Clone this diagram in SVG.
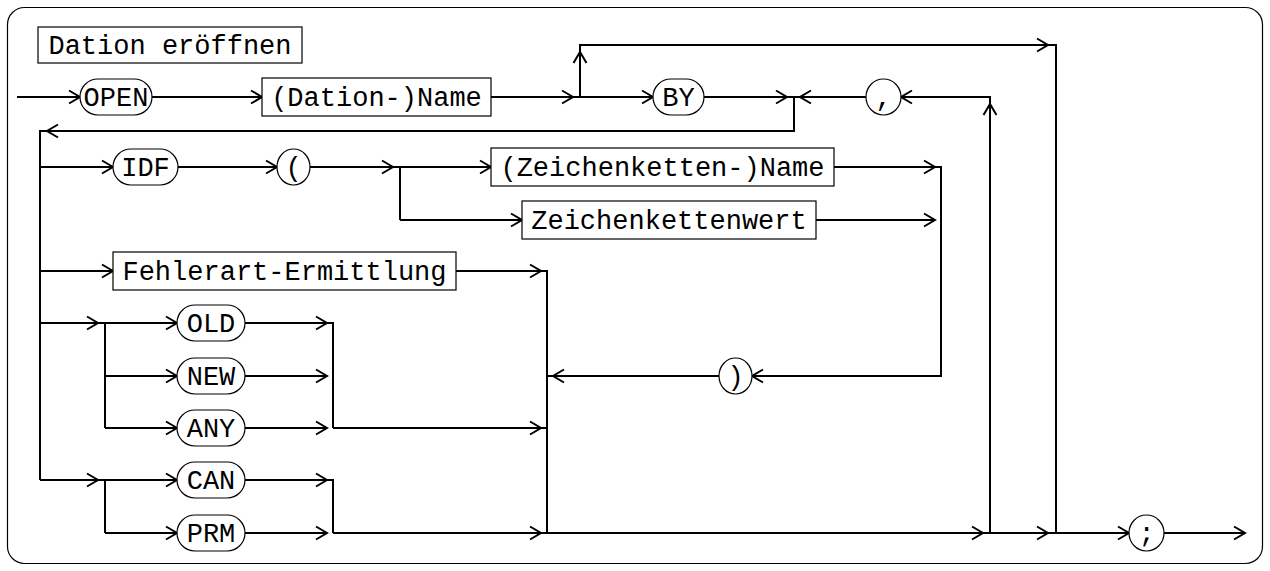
<svg xmlns="http://www.w3.org/2000/svg" width="1270" height="571" viewBox="0 0 1270 571">
<style>
.t{font-family:"Liberation Mono","DejaVu Sans Mono",monospace;font-size:27px;fill:#000;text-anchor:middle}
.box{fill:#fff;stroke:#000;stroke-width:1.2}
.c{fill:none;stroke:#000;stroke-width:2}
.a{fill:none;stroke:#000;stroke-width:2;marker-end:url(#ah)}
</style>
<defs>
<marker id="ah" markerUnits="userSpaceOnUse" markerWidth="16" markerHeight="16" viewBox="-13 -8 15 16" refX="0" refY="0" orient="auto">
<path d="M-11,-6.5 L0,0 L-11,6.5" fill="none" stroke="#000" stroke-width="2"/>
</marker>
</defs>
<rect x="7.5" y="7.5" width="1255" height="556" rx="17" fill="none" stroke="#000" stroke-width="1.2"/>
<g id="title"><rect class="box" x="38" y="27" width="264" height="36"/><text class="t" x="170" y="54">Dation eröffnen</text></g>
<g id="connectors">
<path class="a" d="M17,97 H80"/>
<path class="a" d="M152,97 H262"/>
<path class="a" d="M491,97 H573"/>
<path class="c" d="M573,97 H580"/>
<path class="a" d="M580,97 V52"/>
<path class="a" d="M580,52 V45 H1048"/>
<path class="c" d="M1048,45 H1056 V533"/>
<path class="a" d="M580,97 H653"/>
<path class="a" d="M704,97 H787"/>
<path class="a" d="M787,97 H794 V131 H47"/>
<path class="c" d="M47,131 H40 V480"/>
<path class="a" d="M990,533 V104"/>
<path class="a" d="M990,104 V97 H901"/>
<path class="a" d="M866,97 H800"/>
<path class="c" d="M800,97 H794"/>
<path class="a" d="M40,167 H113"/>
<path class="a" d="M178,167 H277"/>
<path class="a" d="M310,167 H393"/>
<path class="c" d="M393,167 H400 V220"/>
<path class="a" d="M400,167 H491"/>
<path class="a" d="M400,220 H522"/>
<path class="a" d="M834,167 H935"/>
<path class="a" d="M816,220 H935"/>
<path class="a" d="M935,167 H941 V376 H752"/>
<path class="a" d="M719,376 H553"/>
<path class="c" d="M553,376 H547"/>
<path class="a" d="M40,271 H113"/>
<path class="a" d="M456,271 H541"/>
<path class="c" d="M541,271 H547 V533"/>
<path class="a" d="M40,323 H98"/>
<path class="c" d="M98,323 H105 V428"/>
<path class="a" d="M105,323 H177"/>
<path class="a" d="M105,376 H177"/>
<path class="a" d="M105,428 H177"/>
<path class="a" d="M245,323 H327"/>
<path class="a" d="M245,376 H327"/>
<path class="a" d="M245,428 H327"/>
<path class="c" d="M327,323 H333 V428"/>
<path class="a" d="M333,428 H541"/>
<path class="c" d="M541,428 H547"/>
<path class="a" d="M40,480 H98"/>
<path class="c" d="M98,480 H105 V533"/>
<path class="a" d="M105,480 H177"/>
<path class="a" d="M105,533 H177"/>
<path class="a" d="M245,480 H327"/>
<path class="a" d="M245,533 H327"/>
<path class="c" d="M327,480 H333 V533"/>
<path class="a" d="M333,533 H541"/>
<path class="a" d="M541,533 H983"/>
<path class="a" d="M983,533 H1048"/>
<path class="a" d="M1048,533 H1129"/>
<path class="a" d="M1164,533 H1245"/>
</g>
<g id="open"><rect class="box" x="80" y="79" width="72" height="36" rx="18"/><text class="t" x="116" y="106">OPEN</text></g>
<g id="dationname"><rect class="box" x="262" y="78" width="229" height="38"/><text class="t" x="376.5" y="106">(Dation-)Name</text></g>
<g id="by"><rect class="box" x="653" y="79" width="51" height="36" rx="18"/><text class="t" x="678.5" y="106">BY</text></g>
<g id="comma"><ellipse class="box" cx="883.5" cy="97" rx="17.5" ry="18"/><text class="t" x="883.5" y="106">,</text></g>
<g id="idf"><rect class="box" x="113" y="149" width="65" height="36" rx="18"/><text class="t" x="145.5" y="176">IDF</text></g>
<g id="lparen"><ellipse class="box" cx="293.5" cy="167" rx="16.5" ry="18"/><text class="t" x="293.5" y="176">(</text></g>
<g id="zname"><rect class="box" x="491" y="148" width="343" height="38"/><text class="t" x="662.5" y="176">(Zeichenketten-)Name</text></g>
<g id="zwert"><rect class="box" x="522" y="201" width="294" height="38"/><text class="t" x="669" y="229">Zeichenkettenwert</text></g>
<g id="fehler"><rect class="box" x="113" y="252" width="343" height="38"/><text class="t" x="284.5" y="280">Fehlerart-Ermittlung</text></g>
<g id="rparen"><ellipse class="box" cx="735.5" cy="376" rx="16.5" ry="18"/><text class="t" x="735.5" y="385">)</text></g>
<g id="old"><rect class="box" x="177" y="305" width="68" height="36" rx="18"/><text class="t" x="211" y="332">OLD</text></g>
<g id="new"><rect class="box" x="177" y="358" width="68" height="36" rx="18"/><text class="t" x="211" y="385">NEW</text></g>
<g id="any"><rect class="box" x="177" y="410" width="68" height="36" rx="18"/><text class="t" x="211" y="437">ANY</text></g>
<g id="can"><rect class="box" x="177" y="462" width="68" height="36" rx="18"/><text class="t" x="211" y="489">CAN</text></g>
<g id="prm"><rect class="box" x="177" y="515" width="68" height="36" rx="18"/><text class="t" x="211" y="542">PRM</text></g>
<g id="semi"><ellipse class="box" cx="1146.5" cy="533" rx="17.5" ry="18"/><text class="t" x="1146.5" y="542">;</text></g>
</svg>
